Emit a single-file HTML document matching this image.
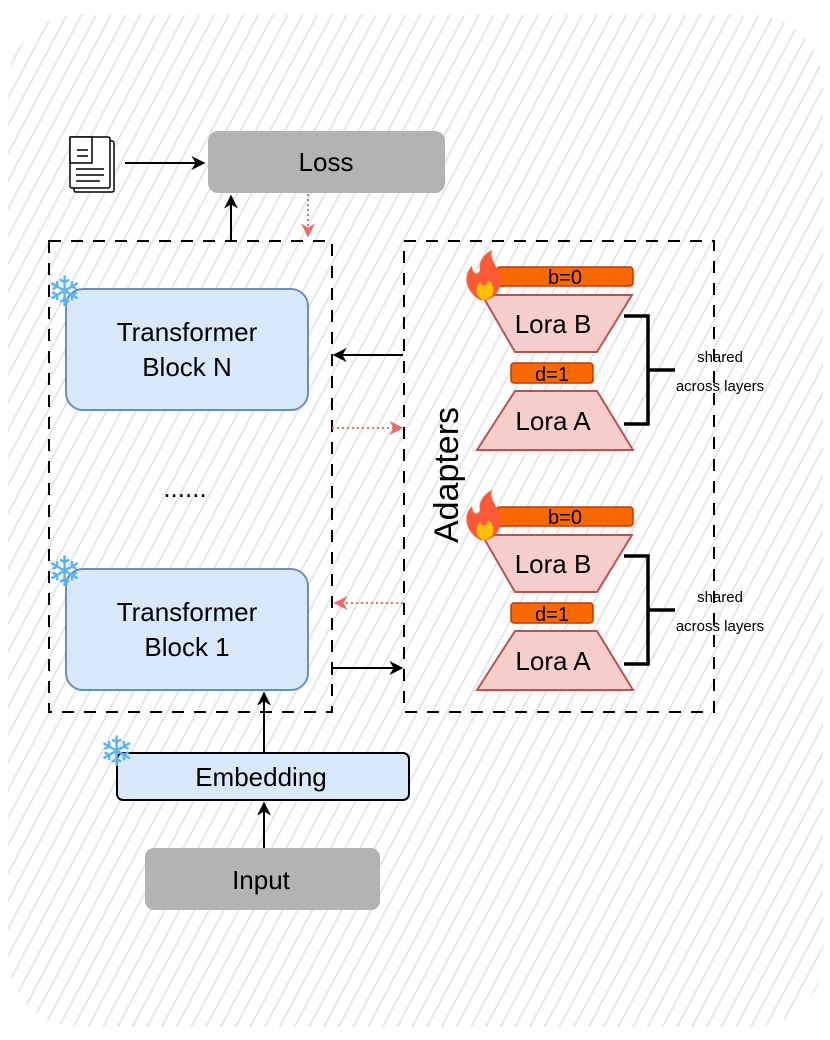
<!DOCTYPE html>
<html><head><meta charset="utf-8"><style>
html,body{margin:0;padding:0;background:#fff}
svg{display:block}
text{font-family:"Comic Sans MS","Liberation Sans",sans-serif}
</style></head><body>
<svg width="830" height="1040" viewBox="0 0 830 1040" xmlns="http://www.w3.org/2000/svg">
<defs>
<pattern id="h" width="13" height="13" patternUnits="userSpaceOnUse" patternTransform="rotate(28)">
<line x1="1" y1="0" x2="1" y2="13" stroke="#e2e2ec" stroke-width="1.8"/>
</pattern>
<marker id="a" viewBox="0 0 10 10" refX="9" refY="5" markerWidth="7" markerHeight="7" orient="auto"><path d="M0,0 L10,5 L0,10 L3,5z" fill="#000"/></marker>
<marker id="r" viewBox="0 0 10 10" refX="9" refY="5" markerWidth="7" markerHeight="7" orient="auto"><path d="M0,0 L10,5 L0,10 L3,5z" fill="#ea6b66"/></marker>
</defs>
<rect x="8" y="15" width="815" height="1012" rx="70" fill="url(#h)"/>

<g fill="#fff" stroke="#000" stroke-width="1.5">
<rect x="74" y="141" width="40" height="51" rx="2"/>
<rect x="70" y="137" width="40" height="51" rx="2"/>
<rect x="70" y="137" width="22" height="26"/>
</g>
<g stroke="#000" stroke-width="1.5">
<line x1="77" y1="150" x2="88" y2="150"/><line x1="77" y1="156" x2="88" y2="156"/>
<line x1="76" y1="169" x2="104" y2="169"/><line x1="76" y1="175" x2="104" y2="175"/><line x1="76" y1="181" x2="100" y2="181"/>
</g>
<line x1="125" y1="163" x2="204" y2="163" stroke="#000" stroke-width="2" marker-end="url(#a)"/>

<rect x="208" y="131" width="237" height="62" rx="10" fill="#b3b3b3"/>
<text x="326" y="171" font-size="26" text-anchor="middle">Loss</text>

<line x1="231" y1="240" x2="231" y2="196" stroke="#000" stroke-width="2" marker-end="url(#a)"/>
<line x1="308" y1="194" x2="308" y2="236" stroke="#ea6b66" stroke-width="2" stroke-dasharray="2,3" marker-end="url(#r)"/>

<rect x="49" y="241" width="283" height="471" fill="none" stroke="#000" stroke-width="2" stroke-dasharray="12,10"/>
<rect x="404" y="241" width="310" height="471" fill="none" stroke="#000" stroke-width="2" stroke-dasharray="12,10"/>

<rect x="66" y="289" width="242" height="121" rx="17" fill="#dae8fc" stroke="#6c8ebf" stroke-width="2"/>
<text x="187" y="341" font-size="26" text-anchor="middle">Transformer</text>
<text x="187" y="376" font-size="26" text-anchor="middle">Block N</text>

<text x="185" y="497" font-size="26" text-anchor="middle">......</text>

<rect x="66" y="569" width="242" height="121" rx="17" fill="#dae8fc" stroke="#6c8ebf" stroke-width="2"/>
<text x="187" y="621" font-size="26" text-anchor="middle">Transformer</text>
<text x="187" y="656" font-size="26" text-anchor="middle">Block 1</text>

<rect x="117" y="753" width="292" height="47" rx="6" fill="#dae8fc" stroke="#000" stroke-width="2"/>
<text x="261" y="786" font-size="26" text-anchor="middle">Embedding</text>

<rect x="145" y="848" width="235" height="62" rx="9" fill="#b3b3b3"/>
<text x="261" y="889" font-size="26" text-anchor="middle">Input</text>

<line x1="264" y1="848" x2="264" y2="803" stroke="#000" stroke-width="2" marker-end="url(#a)"/>
<line x1="264" y1="752" x2="264" y2="693" stroke="#000" stroke-width="2" marker-end="url(#a)"/>

<line x1="403" y1="355" x2="334" y2="355" stroke="#000" stroke-width="2" marker-end="url(#a)"/>
<line x1="332" y1="428" x2="402" y2="428" stroke="#ea6b66" stroke-width="2" stroke-dasharray="2,3" marker-end="url(#r)"/>
<line x1="403" y1="603" x2="335" y2="603" stroke="#ea6b66" stroke-width="2" stroke-dasharray="2,3" marker-end="url(#r)"/>
<polyline points="332,675 332,668 402,668" fill="none" stroke="#000" stroke-width="2" marker-end="url(#a)"/>

<text transform="translate(458,475) rotate(-90)" font-size="34" text-anchor="middle">Adapters</text>

<g font-size="42" fill="#5ab4f5" font-family="DejaVu Sans">
<text x="47" y="306">❄</text>
<text x="47" y="586">❄</text>
<text x="99" y="766">❄</text>
</g>

<g id="ad">
<rect x="497" y="267" width="136" height="19" rx="3" fill="#fa6800" stroke="#c73500" stroke-width="1.5"/>
<text x="565" y="284" font-size="20" text-anchor="middle" font-family="Liberation Sans">b=0</text>
<polygon points="482,295 632,295 597,352 515,352" fill="#f8cecc" stroke="#b85450" stroke-width="2"/>
<text x="553" y="333" font-size="26" text-anchor="middle">Lora B</text>
<rect x="511" y="363" width="82" height="20" rx="3" fill="#fa6800" stroke="#c73500" stroke-width="1.5"/>
<text x="552" y="381" font-size="20" text-anchor="middle" font-family="Liberation Sans">d=1</text>
<polygon points="515,391 597,391 633,450 477,450" fill="#f8cecc" stroke="#b85450" stroke-width="2"/>
<text x="553" y="430" font-size="26" text-anchor="middle">Lora A</text>
<polyline points="624,316 648,316 648,424 624,424" fill="none" stroke="#000" stroke-width="3.5"/>
<line x1="648" y1="370" x2="675" y2="370" stroke="#000" stroke-width="3.5"/>
<text x="720" y="362" font-size="15" text-anchor="middle">shared</text>
<text x="720" y="391" font-size="15" text-anchor="middle">across layers</text>
<path d="M480,300 C466,292 462,276 472,266 C472,274 478,276 480,270 C478,262 484,254 492,250 C488,262 504,270 500,286 C498,296 488,302 480,300z" fill="#ff5a36"/>
<path d="M484,300 C476,298 474,288 480,282 C482,288 488,286 488,280 C496,286 496,298 484,300z" fill="#ffc107"/>
</g>
<use href="#ad" y="240"/>
</svg>
</body></html>
